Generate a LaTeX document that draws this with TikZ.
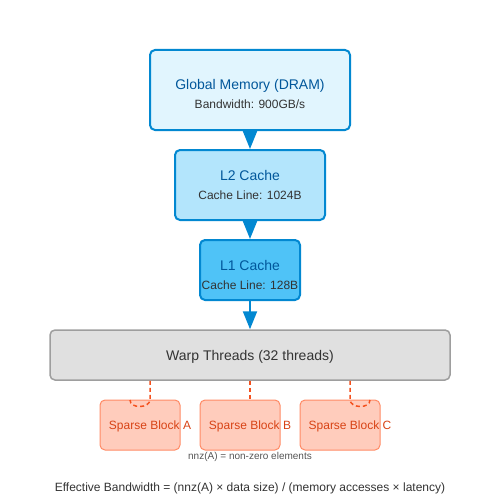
\documentclass[tikz,border=0pt]{standalone}
\usepackage{fontspec}
\setmainfont{Liberation Sans}
\usetikzlibrary{arrows.meta}
\definecolor{memline}{HTML}{0288D1}
\definecolor{memtext}{HTML}{01579B}
\definecolor{globfill}{HTML}{E1F5FE}
\definecolor{ltwofill}{HTML}{B3E5FC}
\definecolor{lonefill}{HTML}{4FC3F7}
\definecolor{subtext}{HTML}{333333}
\definecolor{warpfill}{HTML}{E0E0E0}
\definecolor{warpline}{HTML}{9E9E9E}
\definecolor{blockfill}{HTML}{FFCCBC}
\definecolor{blockline}{HTML}{FF8A65}
\definecolor{blocktext}{HTML}{D84315}
\definecolor{linkline}{HTML}{F4511E}
\definecolor{notetext}{HTML}{555555}
\tikzset{
  membox/.style={draw=memline, line width=2pt, rounded corners=5pt, inner sep=0pt},
  memtitle/.style={anchor=base, inner sep=0pt, text=memtext, font=\fontsize{14}{16}\selectfont},
  memsub/.style={anchor=base, inner sep=0pt, text=subtext, font=\fontsize{12}{14}\selectfont},
  flow/.style={color=memline, line width=2pt, -{Triangle[length=18pt,width=14pt]}},
  warpbox/.style={draw=warpline, fill=warpfill, line width=1.5pt, rounded corners=5pt, inner sep=0pt,
    minimum width=400pt, minimum height=50pt},
  blockbox/.style={draw=blockline, fill=blockfill, line width=1pt, rounded corners=5pt, inner sep=0pt,
    minimum width=80pt, minimum height=50pt},
  blocklabel/.style={anchor=base, inner sep=0pt, text=blocktext, font=\fontsize{12}{14}\selectfont},
  link/.style={draw=linkline, line width=1.5pt, dash pattern=on 4pt off 3pt},
}
\begin{document}
\begin{tikzpicture}[x=1pt,y=-1pt]
\useasboundingbox (0,0) rectangle (500,500);
% memory hierarchy
\draw 	(250,90) node[membox,fill=globfill,minimum width=200pt,minimum height=80pt](glob){}
		(250,185) node[membox,fill=ltwofill,minimum width=150pt,minimum height=70pt](ltwo){}
		(250,270) node[membox,fill=lonefill,minimum width=100pt,minimum height=60pt](lone){};
\node[memtitle] (globt) at (250,90) {Global Memory (DRAM)};
\node[memsub] (globs) at (250,109) {Bandwidth: 900GB/s};
\node[memtitle] (ltwot) at (250,180) {L2 Cache};
\node[memsub] (ltwos) at (250,199) {Cache Line: 1024B};
\node[memtitle] (lonet) at (250,270) {L1 Cache};
\node[memsub] (lones) at (250,289) {Cache Line: 128B};

\draw (250,355) node[warpbox](warp){};
\node[anchor=base, inner sep=0pt, text=subtext, font=\fontsize{14}{16}\selectfont] (warpt) at (250,360) {Warp Threads (32 threads)};

\draw[flow] (glob) -- (ltwo);
\draw[flow] (ltwo) -- (lone);
\draw[flow] (lone) -- (warp);

% sparse blocks
\draw 	(140,425) node[blockbox](blka){}
		(240,425) node[blockbox](blkb){}
		(340,425) node[blockbox](blkc){};
\node[blocklabel] (ta) at (150,429) {Sparse Block A};
\node[blocklabel] (tb) at (250,429) {Sparse Block B};
\node[blocklabel] (tc) at (350,429) {Sparse Block C};
\coordinate (hooka) at (130,400);
\coordinate (hookc) at (370,400);
\draw[link] (warp.south -| ta) -- (blka.north -| ta) .. controls +(0,9) and +(0,9) .. (hooka);
\draw[link] (warp.south -| tb) -- (blkb.north -| tb);
\draw[link] (warp.south -| tc) -- (blkc.north -| tc) .. controls +(0,9) and +(0,9) .. (hookc);

\node[anchor=base, inner sep=0pt, text=notetext, font=\fontsize{10}{12}\selectfont] (note) at (250,459) {nnz(A) = non-zero elements};
\node[anchor=base, inner sep=0pt, text=subtext, font=\fontsize{12}{14}\selectfont] (formula) at (250,491) {Effective Bandwidth = (nnz(A) × data size) / (memory accesses × latency)};
\end{tikzpicture}
\end{document}
